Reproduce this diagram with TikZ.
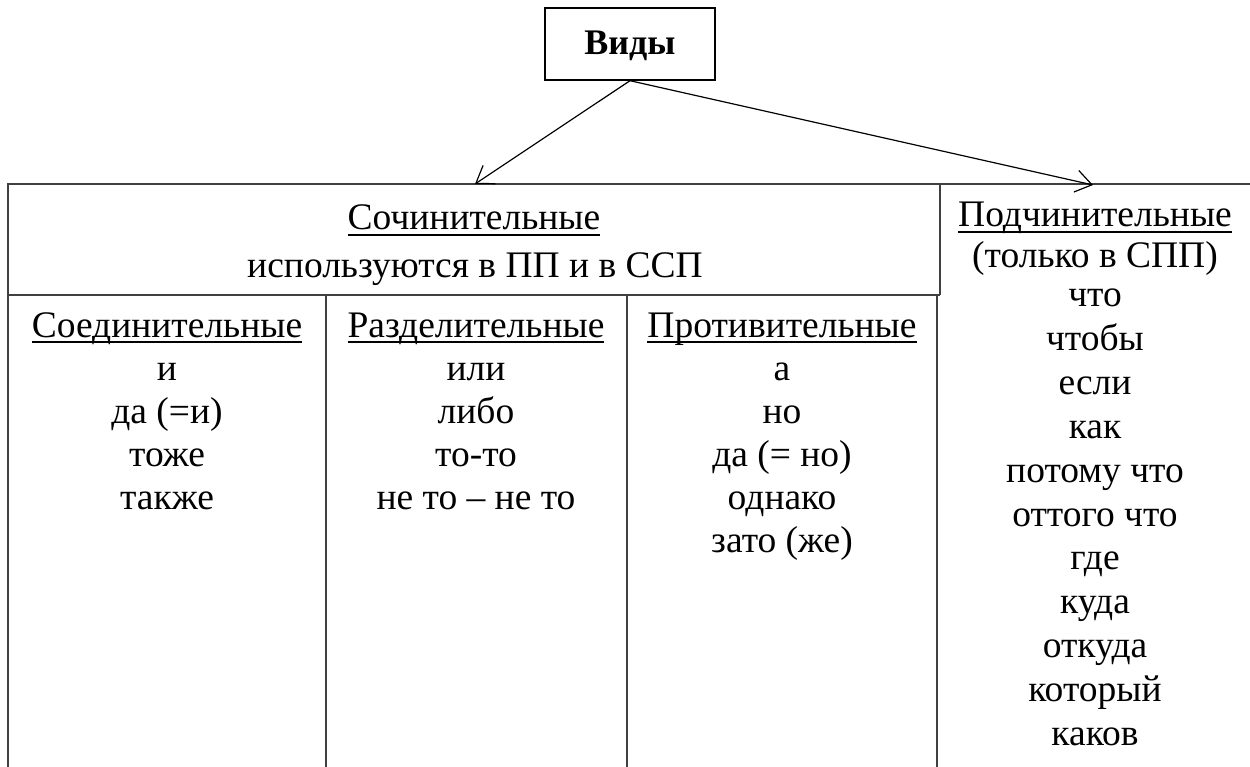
\documentclass[tikz,border=0pt]{standalone}
\usepackage{fontspec}
\setmainfont{Liberation Serif}
\usetikzlibrary{arrows.meta}
\newcommand\myul[1]{\setbox0\hbox{#1}\rlap{\rule[-6pt]{\wd0}{1.8pt}}\box0}
\begin{document}
\begin{tikzpicture}[x=1pt,y=-1pt,
  txt/.style={inner sep=0pt, anchor=base, font=\fontsize{37.5}{43}\selectfont},
  ln/.style={line width=1.6pt, draw=black!75},
  arr/.style={line width=1.2pt, -{Straight Barb[length=16pt,width=22pt,line width=1.2pt]}}]
\useasboundingbox (0,0) rectangle (1250,767);
% top box
\node[draw, line width=1.4pt, minimum width=170pt, minimum height=72pt, inner sep=0pt] (vid) at (630,44) {};
\node[txt, font=\fontsize{36}{40}\selectfont\bfseries] (vidt) at (630,55) {Виды};
% table lines
\draw[ln] (8,767) -- (8,184) -- (1250,184);
\draw[ln] (940,184) -- (940,295);
\draw[ln] (8,295) -- (940,295);
\draw[ln, line width=2.4pt] (937,295) -- (937,767);
\draw[ln] (326,295) -- (326,767);
\draw[ln] (627,295) -- (627,767);
% arrow ends
\coordinate (sochtop) at (475,184);
\coordinate (podtop) at (1093,185);
\draw[arr] (vid.south) -- (sochtop);
\draw[arr] (vid.south) -- (podtop);
% header
\node[txt] (soch) at (474,230) {\myul{Сочинительные}};
\node[txt] (isp) at (475,278) {используются в ПП и в ССП};
% column 1
\node[txt] (c1h) at (167,337) {\myul{Соединительные}};
\node[txt] (c1a) at (167,380) {и};
\node[txt] (c1b) at (167,423) {да (=и)};
\node[txt] (c1c) at (167,466) {тоже};
\node[txt] (c1d) at (167,509) {также};
% column 2
\node[txt] (c2h) at (476,337) {\myul{Разделительные}};
\node[txt] (c2a) at (476,380) {или};
\node[txt] (c2b) at (476,423) {либо};
\node[txt] (c2c) at (476,466) {то-то};
\node[txt] (c2d) at (476,509) {не то – не то};
% column 3
\node[txt] (c3h) at (782,337) {\myul{Противительные}};
\node[txt] (c3a) at (782,380) {а};
\node[txt] (c3b) at (782,423) {но};
\node[txt] (c3c) at (782,466) {да (= но)};
\node[txt] (c3d) at (782,509) {однако};
\node[txt] (c3e) at (782,552) {зато (же)};
% right column
\node[txt] (p0) at (1095,227) {\myul{Подчинительные}};
\node[txt] (p1) at (1095,268) {(только в СПП)};
\node[txt] (p2) at (1095,307) {что};
\node[txt] (p3) at (1095,350.8) {чтобы};
\node[txt] (p4) at (1095,394.6) {если};
\node[txt] (p5) at (1095,438.4) {как};
\node[txt] (p6) at (1095,482.2) {потому что};
\node[txt] (p7) at (1095,526) {оттого что};
\node[txt] (p8) at (1095,569.8) {где};
\node[txt] (p9) at (1095,613.6) {куда};
\node[txt] (p10) at (1095,657.4) {откуда};
\node[txt] (p11) at (1095,701.2) {который};
\node[txt] (p12) at (1095,745) {каков};
\end{tikzpicture}
\end{document}
